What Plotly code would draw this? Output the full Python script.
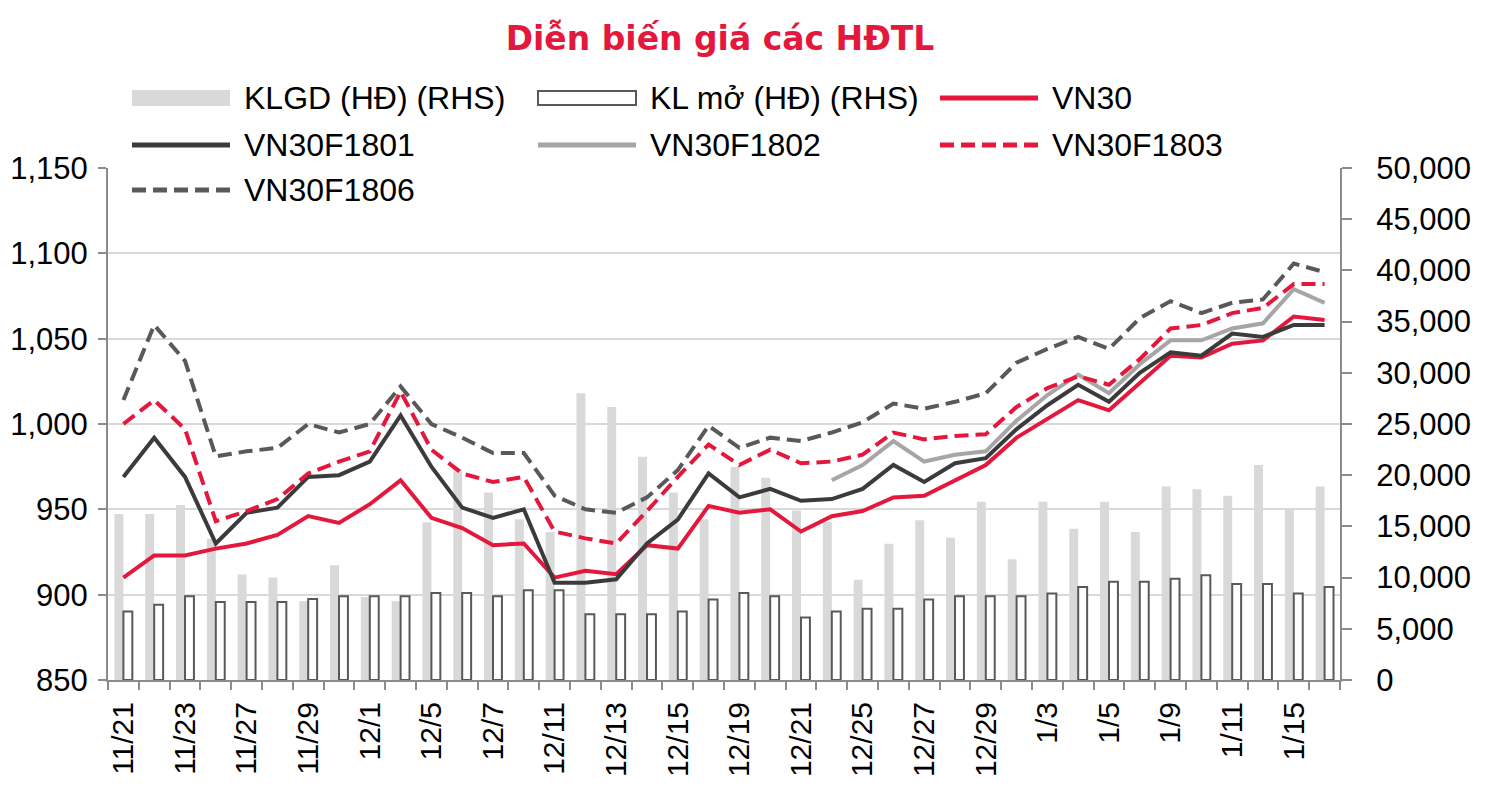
import plotly.graph_objects as go

# ---------------- data ----------------
dates = ["11/21", "11/22", "11/23", "11/24", "11/27", "11/28", "11/29", "11/30",
         "12/1", "12/4", "12/5", "12/6", "12/7", "12/8", "12/11", "12/12",
         "12/13", "12/14", "12/15", "12/18", "12/19", "12/20", "12/21", "12/22",
         "12/25", "12/26", "12/27", "12/28", "12/29", "1/2", "1/3", "1/4",
         "1/5", "1/8", "1/9", "1/10", "1/11", "1/12", "1/15", "1/16"]

tick_labels = ["11/21", "11/23", "11/27", "11/29", "12/1", "12/5", "12/7", "12/11",
               "12/13", "12/15", "12/19", "12/21", "12/25", "12/27", "12/29", "1/3",
               "1/5", "1/9", "1/11", "1/15"]

klgd = [16200, 16200, 17100, 13800, 10300, 10000, 7700, 11200, 8100, 7700,
        15400, 20600, 18300, 15700, 14450, 28000, 26650, 21800, 18300, 15700,
        20800, 19750, 16550, 15450, 9800, 13300, 15600, 13880, 17400, 11800,
        17400, 14780, 17400, 14450, 18900, 18630, 18000, 21000, 16600, 18900]

kl_mo = [6700, 7350, 8180, 7620, 7620, 7620, 7900, 8180, 8180, 8180,
         8500, 8500, 8180, 8770, 8770, 6430, 6430, 6430, 6700, 7850,
         8500, 8180, 6100, 6700, 6960, 6960, 7850, 8180, 8180, 8180,
         8440, 9070, 9600, 9600, 9890, 10220, 9370, 9370, 8440, 9070]

vn30 = [910, 923, 923, 927, 930, 935, 946, 942, 953, 967,
        945, 939, 929, 930, 910, 914, 912, 929, 927, 952,
        948, 950, 937, 946, 949, 957, 958, 967, 976, 992,
        1003, 1014, 1008, 1024, 1040, 1039, 1047, 1049, 1063, 1061]

vn30f1801 = [969, 992, 969, 930, 948, 951, 969, 970, 978, 1005,
             975, 951, 945, 950, 907, 907, 909, 930, 944, 971,
             957, 962, 955, 956, 962, 976, 966, 977, 980, 997,
             1011, 1023, 1013, 1030, 1042, 1040, 1053, 1051, 1058, 1058]

vn30f1802 = [None, None, None, None, None, None, None, None, None, None,
             None, None, None, None, None, None, None, None, None, None,
             None, None, None, 967, 976, 990, 978, 982, 984, 1002,
             1017, 1029, 1018, 1035, 1049, 1049, 1056, 1059, 1079, 1071]

vn30f1803 = [1000, 1014, 997, 943, 949, 956, 971, 978, 984, 1019,
             985, 971, 966, 969, 937, 933, 930, 949, 969, 988,
             976, 985, 977, 978, 982, 995, 991, 993, 994, 1010,
             1021, 1028, 1023, 1038, 1056, 1058, 1065, 1068, 1082, 1082]

vn30f1806 = [1014, 1058, 1037, 981, 984, 986, 1000, 995, 1000, 1022,
             1000, 992, 983, 983, 958, 950, 948, 957, 973, 999,
             986, 992, 990, 995, 1001, 1012, 1009, 1013, 1018, 1036,
             1044, 1051, 1044, 1062, 1072, 1065, 1071, 1073, 1094, 1089]

# ---------------- styling ----------------
RED = "#E3183C"
DARK = "#3B3B3B"
LIGHT = "#A6A6A6"
GREYDASH = "#595959"
BARGREY = "#D9D9D9"
AXIS = "#8C8C8C"
FONT = "Liberation Sans"
DASH = "14px,7px"

FIG_W, FIG_H = 1486, 806
OFF = 8  # page body margin: screen position = figure position + OFF
# target plot area in screen pixels
SX0, SX1, SY0, SY1 = 108, 1340, 168, 680
L = SX0 - OFF
T = SY0 - OFF
R = FIG_W - (SX1 - OFF)
B = FIG_H - (SY1 - OFF)
W = SX1 - SX0
H = SY1 - SY0


def px(x):
    return (x - SX0) / W


def py(y):
    return (SY1 - y) / H


fig = go.Figure()

fig.add_trace(go.Bar(x=dates, y=klgd, name="KLGD (HĐ) (RHS)", yaxis="y",
                     marker=dict(color=BARGREY, line=dict(width=0))))
fig.add_trace(go.Bar(x=dates, y=kl_mo, name="KL mở (HĐ) (RHS)", yaxis="y",
                     marker=dict(color="white", line=dict(color=GREYDASH, width=2))))

series = [
    ("VN30", vn30, RED, "solid"),
    ("VN30F1801", vn30f1801, DARK, "solid"),
    ("VN30F1802", vn30f1802, LIGHT, "solid"),
    ("VN30F1803", vn30f1803, RED, DASH),
    ("VN30F1806", vn30f1806, GREYDASH, DASH),
]
for name, vals, color, dash in series:
    fig.add_trace(go.Scatter(x=dates, y=vals, name=name, mode="lines", yaxis="y2",
                             line=dict(color=color, width=4, dash=dash),
                             connectgaps=False))

ticktext = [d if d in tick_labels else "" for d in dates]

# ---------------- manual legend ----------------
shapes = []
annotations = []
legend_items = [
    ("KLGD (HĐ) (RHS)", "fill", None, None, 132, 98),
    ("KL mở (HĐ) (RHS)", "outline", None, None, 538, 98),
    ("VN30", "line", RED, "solid", 940, 98),
    ("VN30F1801", "line", DARK, "solid", 132, 145),
    ("VN30F1802", "line", LIGHT, "solid", 538, 145),
    ("VN30F1803", "line", RED, DASH, 940, 145),
    ("VN30F1806", "line", GREYDASH, DASH, 132, 190),
]
for text, kind, color, dash, x0, yc in legend_items:
    if kind == "fill":
        shapes.append(dict(type="rect", xref="paper", yref="paper",
                           x0=px(x0), x1=px(x0 + 98), y0=py(yc - 8), y1=py(yc + 8),
                           fillcolor=BARGREY, line=dict(width=0)))
    elif kind == "outline":
        shapes.append(dict(type="rect", xref="paper", yref="paper",
                           x0=px(x0), x1=px(x0 + 98), y0=py(yc - 7), y1=py(yc + 7),
                           fillcolor="white", line=dict(color=GREYDASH, width=2)))
    else:
        shapes.append(dict(type="line", xref="paper", yref="paper",
                           x0=px(x0), x1=px(x0 + 98), y0=py(yc), y1=py(yc),
                           line=dict(color=color, width=5, dash=dash)))
    annotations.append(dict(text=text, xref="paper", yref="paper",
                            x=px(x0 + 110), y=py(yc), xanchor="left", yanchor="middle",
                            showarrow=False, font=dict(family=FONT, size=32, color="#000000")))

fig.update_layout(
    width=FIG_W, height=FIG_H,
    margin=dict(l=L, r=R, t=T, b=B, pad=0, autoexpand=False),
    paper_bgcolor="white", plot_bgcolor="white",
    showlegend=False,
    barmode="group", bargap=0.42, bargroupgap=0,
    title=dict(text="<b>Diễn biến giá các HĐTL</b>", x=(720 - OFF) / FIG_W, xref="container",
               y=1 - (38 - OFF) / FIG_H, yref="container", xanchor="center", yanchor="middle",
               font=dict(family="DejaVu Sans", size=33, color=RED)),
    font=dict(family=FONT, color="#000000"),
    xaxis=dict(type="category", tickmode="array", tickvals=dates, ticktext=ticktext,
               tickson="boundaries", ticks="outside", ticklen=8, tickwidth=2,
               tickcolor=AXIS, showline=True, linecolor=AXIS, linewidth=2,
               tickangle=-90, tickfont=dict(family=FONT, size=30, color="#000000"),
               showgrid=False, ticklabelstandoff=8, automargin=False),
    yaxis=dict(side="right", range=[0, 50000], dtick=5000, tickformat=",",
               showgrid=False, zeroline=False, showline=True, linecolor=AXIS,
               linewidth=2, ticks="outside", ticklen=10, tickwidth=2, tickcolor=AXIS,
               tickfont=dict(family=FONT, size=31, color="#000000"),
               ticklabelstandoff=18, automargin=False),
    yaxis2=dict(side="left", overlaying="y", range=[850, 1150], dtick=50,
                tickformat=",", showgrid=True, gridcolor=BARGREY, gridwidth=2,
                zeroline=False, showline=True, linecolor=AXIS, linewidth=2,
                ticks="outside", ticklen=8, tickwidth=2, tickcolor=AXIS,
                tickfont=dict(family=FONT, size=31, color="#000000"),
                ticklabelstandoff=4, automargin=False),
    shapes=shapes,
    annotations=annotations,
)

fig.write_html("out.html")
